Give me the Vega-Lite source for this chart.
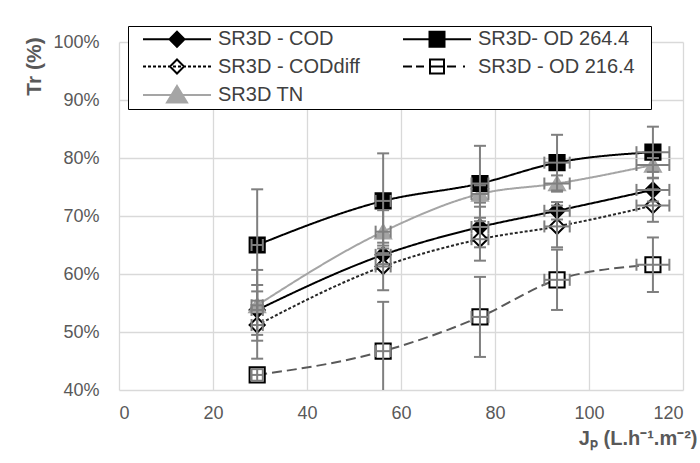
{
  "$schema": "https://vega.github.io/schema/vega-lite/v6.json",
  "width": 564,
  "height": 348,
  "autosize": {"type": "none"},
  "padding": {"left": 119, "top": 42, "right": 17, "bottom": 73},
  "background": "white",
  "config": {
    "view": {"stroke": null},
    "font": "Liberation Sans",
    "axis": {
      "grid": true,
      "gridColor": "#d9d9d9",
      "gridWidth": 1.3,
      "domain": false,
      "ticks": false,
      "labelFont": "Liberation Sans",
      "labelFontSize": 18,
      "labelColor": "#595959",
      "titleFont": "Liberation Sans",
      "titleColor": "#595959",
      "titleFontWeight": "bold"
    }
  },
  "data": {
    "values": [
      {"s": "SR3D - COD", "x": 29.4, "y": 53.8, "ylo": 49.5, "yhi": 58.1, "xlo": 28.2, "xhi": 30.6},
      {"s": "SR3D - COD", "x": 56.2, "y": 63.3, "ylo": 61.7, "yhi": 64.9, "xlo": 54.6, "xhi": 57.8},
      {"s": "SR3D - COD", "x": 76.8, "y": 68.1, "ylo": 64.6, "yhi": 71.6, "xlo": 75.0, "xhi": 78.6},
      {"s": "SR3D - COD", "x": 93.2, "y": 70.9, "ylo": 69.4, "yhi": 72.4, "xlo": 90.5, "xhi": 95.9},
      {"s": "SR3D - COD", "x": 113.6, "y": 74.5, "ylo": 72.5, "yhi": 76.5, "xlo": 110.1, "xhi": 117.1},
      {"s": "SR3D - CODdiff", "x": 29.4, "y": 51.2, "ylo": 45.4, "yhi": 57.0, "xlo": 28.2, "xhi": 30.6},
      {"s": "SR3D - CODdiff", "x": 56.2, "y": 61.3, "ylo": 57.2, "yhi": 65.4, "xlo": 54.6, "xhi": 57.8},
      {"s": "SR3D - CODdiff", "x": 76.8, "y": 66.0, "ylo": 62.3, "yhi": 69.7, "xlo": 75.0, "xhi": 78.6},
      {"s": "SR3D - CODdiff", "x": 93.2, "y": 68.2, "ylo": 64.6, "yhi": 71.8, "xlo": 90.5, "xhi": 95.9},
      {"s": "SR3D - CODdiff", "x": 113.6, "y": 71.8, "ylo": 69.0, "yhi": 74.6, "xlo": 110.1, "xhi": 117.1},
      {"s": "SR3D TN", "x": 29.4, "y": 54.6, "ylo": 48.5, "yhi": 60.7, "xlo": 28.2, "xhi": 30.6},
      {"s": "SR3D TN", "x": 56.2, "y": 67.3, "ylo": 63.6, "yhi": 71.0, "xlo": 54.6, "xhi": 57.8},
      {"s": "SR3D TN", "x": 76.8, "y": 73.8, "ylo": 72.3, "yhi": 75.3, "xlo": 75.0, "xhi": 78.6},
      {"s": "SR3D TN", "x": 93.2, "y": 75.6, "ylo": 74.2, "yhi": 77.0, "xlo": 90.5, "xhi": 95.9},
      {"s": "SR3D TN", "x": 113.6, "y": 78.8, "ylo": 77.6, "yhi": 80.0, "xlo": 110.1, "xhi": 117.1},
      {"s": "SR3D- OD 264.4", "x": 29.4, "y": 65.0, "ylo": 55.4, "yhi": 74.6, "xlo": 28.2, "xhi": 30.6},
      {"s": "SR3D- OD 264.4", "x": 56.2, "y": 72.6, "ylo": 64.4, "yhi": 80.8, "xlo": 54.6, "xhi": 57.8},
      {"s": "SR3D- OD 264.4", "x": 76.8, "y": 75.6, "ylo": 69.1, "yhi": 82.1, "xlo": 75.0, "xhi": 78.6},
      {"s": "SR3D- OD 264.4", "x": 93.2, "y": 79.2, "ylo": 74.4, "yhi": 84.0, "xlo": 90.5, "xhi": 95.9},
      {"s": "SR3D- OD 264.4", "x": 113.6, "y": 81.0, "ylo": 76.6, "yhi": 85.4, "xlo": 110.1, "xhi": 117.1},
      {"s": "SR3D - OD 216.4", "x": 29.4, "y": 42.6, "ylo": 41.6, "yhi": 43.6, "xlo": 28.2, "xhi": 30.6},
      {"s": "SR3D - OD 216.4", "x": 56.2, "y": 46.7, "ylo": 38.2, "yhi": 55.2, "xlo": 54.6, "xhi": 57.8},
      {"s": "SR3D - OD 216.4", "x": 76.8, "y": 52.6, "ylo": 45.7, "yhi": 59.5, "xlo": 75.0, "xhi": 78.6},
      {"s": "SR3D - OD 216.4", "x": 93.2, "y": 59.0, "ylo": 53.8, "yhi": 64.2, "xlo": 90.5, "xhi": 95.9},
      {"s": "SR3D - OD 216.4", "x": 113.6, "y": 61.6, "ylo": 56.9, "yhi": 66.3, "xlo": 110.1, "xhi": 117.1}
    ]
  },
  "layer": [
    {
      "mark": {"type": "line", "interpolate": "monotone", "strokeWidth": 2},
      "encoding": {
        "x": {
          "field": "x", "type": "quantitative",
          "scale": {"domain": [0, 120], "nice": false, "zero": false},
          "axis": {
            "values": [0, 20, 40, 60, 80, 100, 120],
            "labelPadding": 14,
            "title": "Jₚ (L.h⁻¹.m⁻²)",
            "titleFontSize": 20,
            "titleAlign": "right",
            "titleX": 578,
            "titleY": 54,
            "titleBaseline": "alphabetic"
          }
        },
        "y": {
          "field": "y", "type": "quantitative",
          "scale": {"domain": [40, 100], "nice": false, "zero": false},
          "axis": {
            "values": [40, 50, 60, 70, 80, 90, 100],
            "labelExpr": "datum.value + '%'",
            "labelPadding": 20,
            "title": "Tr (%)",
            "titleFontSize": 21,
            "titleAngle": 270,
            "titleAlign": "center",
            "titleBaseline": "middle",
            "titleX": -85,
            "titleY": 24
          }
        },
        "color": {
          "field": "s", "type": "nominal",
          "scale": {
            "domain": ["SR3D - COD", "SR3D - CODdiff", "SR3D - OD 216.4", "SR3D TN", "SR3D- OD 264.4"],
            "range": ["#000000", "#262626", "#595959", "#a5a5a5", "#000000"]
          },
          "legend": null
        },
        "strokeDash": {
          "field": "s", "type": "nominal",
          "scale": {
            "domain": ["SR3D - COD", "SR3D - CODdiff", "SR3D - OD 216.4", "SR3D TN", "SR3D- OD 264.4"],
            "range": [[1, 0], [3, 2], [10, 5], [1, 0], [1, 0]]
          },
          "legend": null
        }
      }
    },
    {
      "transform": [{"filter": "datum.s === 'SR3D - COD'"}],
      "mark": {"type": "point", "shape": "diamond", "size": 230, "strokeWidth": 2, "opacity": 1, "fill": "#000000", "stroke": "#000000"},
      "encoding": {
        "x": {"field": "x", "type": "quantitative"},
        "y": {"field": "y", "type": "quantitative"}
      }
    },
    {
      "transform": [{"filter": "datum.s === 'SR3D - CODdiff'"}],
      "mark": {"type": "point", "shape": "diamond", "size": 230, "strokeWidth": 2, "opacity": 1, "fill": "#ffffff", "stroke": "#000000"},
      "encoding": {
        "x": {"field": "x", "type": "quantitative"},
        "y": {"field": "y", "type": "quantitative"}
      }
    },
    {
      "transform": [{"filter": "datum.s === 'SR3D TN'"}],
      "mark": {"type": "point", "shape": "triangle-up", "size": 250, "strokeWidth": 2, "opacity": 1, "fill": "#a5a5a5", "stroke": "#a5a5a5"},
      "encoding": {
        "x": {"field": "x", "type": "quantitative"},
        "y": {"field": "y", "type": "quantitative"}
      }
    },
    {
      "transform": [{"filter": "datum.s === 'SR3D- OD 264.4'"}],
      "mark": {"type": "point", "shape": "square", "size": 230, "strokeWidth": 2, "opacity": 1, "fill": "#000000", "stroke": "#000000"},
      "encoding": {
        "x": {"field": "x", "type": "quantitative"},
        "y": {"field": "y", "type": "quantitative"}
      }
    },
    {
      "transform": [{"filter": "datum.s === 'SR3D - OD 216.4'"}],
      "mark": {"type": "point", "shape": "square", "size": 230, "strokeWidth": 2, "opacity": 1, "fill": "#ffffff", "stroke": "#000000"},
      "encoding": {
        "x": {"field": "x", "type": "quantitative"},
        "y": {"field": "y", "type": "quantitative"}
      }
    },
    {
      "mark": {"type": "rule", "color": "#7f7f7f", "strokeWidth": 2, "clip": true, "opacity": 1},
      "encoding": {
        "x": {"field": "x", "type": "quantitative"},
        "y": {"field": "ylo", "type": "quantitative"},
        "y2": {"field": "yhi"}
      }
    },
    {
      "mark": {"type": "rule", "color": "#7f7f7f", "strokeWidth": 2, "clip": true, "opacity": 1},
      "encoding": {
        "x": {"field": "xlo", "type": "quantitative"},
        "x2": {"field": "xhi"},
        "y": {"field": "y", "type": "quantitative"}
      }
    },
    {
      "mark": {"type": "tick", "orient": "horizontal", "size": 12, "thickness": 2, "color": "#7f7f7f", "clip": true, "opacity": 1},
      "encoding": {
        "x": {"field": "x", "type": "quantitative"},
        "y": {"field": "ylo", "type": "quantitative"}
      }
    },
    {
      "mark": {"type": "tick", "orient": "horizontal", "size": 12, "thickness": 2, "color": "#7f7f7f", "clip": true, "opacity": 1},
      "encoding": {
        "x": {"field": "x", "type": "quantitative"},
        "y": {"field": "yhi", "type": "quantitative"}
      }
    },
    {
      "mark": {"type": "tick", "orient": "vertical", "size": 12, "thickness": 2, "color": "#7f7f7f", "clip": true, "opacity": 1},
      "encoding": {
        "x": {"field": "xlo", "type": "quantitative"},
        "y": {"field": "y", "type": "quantitative"}
      }
    },
    {
      "mark": {"type": "tick", "orient": "vertical", "size": 12, "thickness": 2, "color": "#7f7f7f", "clip": true, "opacity": 1},
      "encoding": {
        "x": {"field": "xhi", "type": "quantitative"},
        "y": {"field": "y", "type": "quantitative"}
      }
    },
    {
      "mark": {"type": "point", "size": 400, "strokeWidth": 2, "opacity": 0},
      "encoding": {
        "x": {"field": "x", "type": "quantitative"},
        "y": {"field": "y", "type": "quantitative"},
        "shape": {
          "field": "s", "type": "nominal",
          "scale": {
            "domain": ["SR3D - COD", "SR3D - CODdiff", "SR3D TN", "SR3D- OD 264.4", "SR3D - OD 216.4"],
            "range": [
              "M-3.4,0H3.4M0,-0.75L0.75,0L0,0.75L-0.75,0Z",
              "M-3.4,0h0.3M-2.9,0h0.3M-2.4,0h0.3M-1.9,0h0.3M-1.4,0h0.3M-0.9,0h0.3M-0.4,0h0.3M0.1,0h0.3M0.6,0h0.3M1.1,0h0.3M1.6,0h0.3M2.1,0h0.3M2.6,0h0.3M3.1,0h0.3M0,-0.7L0.7,0L0,0.7L-0.7,0Z",
              "M-3.4,0H3.4M0,-0.9L1,0.75H-1Z",
              "M-3.4,0H3.4M-0.75,-0.75H0.75V0.75H-0.75Z",
              "M-3.4,0h0.9M-2.1,0h0.8M-0.6,0h1.2M1.0,0h0.9M2.6,0h0.2M-0.7,-0.7H0.7V0.7H-0.7Z"
            ]
          },
          "legend": {
            "title": "\u00a0",
            "titleOrient": "right",
            "titlePadding": 14,
            "titleFontSize": 8,
            "orient": "none",
            "legendX": 9,
            "legendY": -16,
            "columns": 2,
            "strokeColor": "#000000",
            "fillColor": "#ffffff",
            "padding": 2,
            "symbolSize": 400,
            "symbolStrokeWidth": 2,
            "symbolOpacity": 1,
            "symbolOffset": 36,
            "labelOffset": 30,
            "labelFont": "Liberation Sans",
            "labelFontSize": 20,
            "labelColor": "#404040",
            "labelLimit": 0,
            "rowPadding": 4.5,
            "columnPadding": 30
          }
        },
        "fill": {
          "field": "s", "type": "nominal",
          "scale": {
            "domain": ["SR3D - COD", "SR3D - CODdiff", "SR3D TN", "SR3D- OD 264.4", "SR3D - OD 216.4"],
            "range": ["#000000", "#ffffff", "#a5a5a5", "#000000", "#ffffff"]
          }
        },
        "stroke": {
          "field": "s", "type": "nominal",
          "scale": {
            "domain": ["SR3D - COD", "SR3D - CODdiff", "SR3D TN", "SR3D- OD 264.4", "SR3D - OD 216.4"],
            "range": ["#000000", "#000000", "#a5a5a5", "#000000", "#000000"]
          }
        }
      }
    }
  ]
}
